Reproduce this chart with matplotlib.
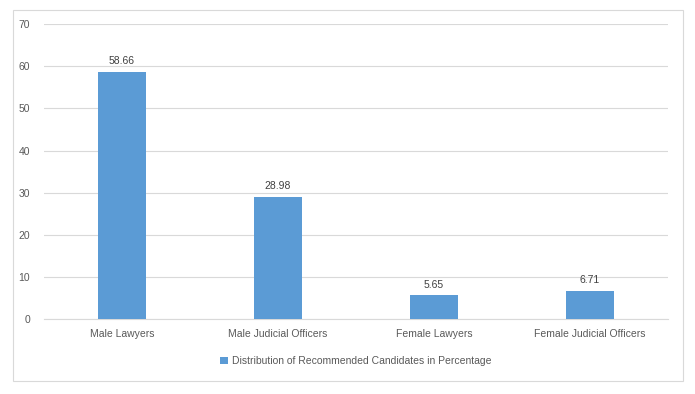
#!/usr/bin/env python3
"""Distribution of recommended candidates bar chart."""
import matplotlib
matplotlib.use("Agg")
import matplotlib.pyplot as plt
from matplotlib.patches import Rectangle

categories = ["Male Lawyers", "Male Judicial Officers", "Female Lawyers", "Female Judicial Officers"]
values = [58.66, 28.98, 5.65, 6.71]
series_name = "Distribution of Recommended Candidates in Percentage"

BLUE = "#5B9BD5"
TEXT = "#595959"
GRID = "#D9D9D9"

plt.rcParams["font.family"] = ["Liberation Sans", "DejaVu Sans"]

fig = plt.figure(figsize=(6.95, 3.94), dpi=100)
ax = fig.add_axes([0.0633, 0.190, 0.8977, 0.749])

x = range(len(categories))
bars = ax.bar(x, values, width=0.31, color=BLUE, label=series_name, zorder=3)
for b, v in zip(bars, values):
    ax.annotate(f"{v:.2f}", (b.get_x() + b.get_width() / 2, v), xytext=(0, 4),
                textcoords="offset points", ha="center", va="bottom",
                fontsize=7.5, color="#404040")

ax.set_xlim(-0.5, len(categories) - 0.5)
ax.set_ylim(0, 70)
ax.set_yticks(range(0, 71, 10))
ax.set_xticks(list(x))
ax.set_xticklabels(categories)
ax.tick_params(axis="both", length=0, labelsize=7.5, colors=TEXT)
ax.tick_params(axis="y", pad=10)
ax.tick_params(axis="x", pad=7)
ax.grid(axis="y", color=GRID, linewidth=0.8, zorder=0)
for side in ["top", "right", "left"]:
    ax.spines[side].set_visible(False)
ax.spines["bottom"].set_color(GRID)

ax.legend(loc="center", bbox_to_anchor=(0.5, -0.142), frameon=False,
          fontsize=7.5, labelcolor=TEXT, handlelength=0.7, handleheight=0.7,
          handletextpad=0.4)

fig.patches.append(Rectangle((0.0187, 0.033), 0.9643, 0.942, transform=fig.transFigure,
                             fill=False, edgecolor=GRID, linewidth=0.8))

fig.savefig("out.png", dpi=100)
